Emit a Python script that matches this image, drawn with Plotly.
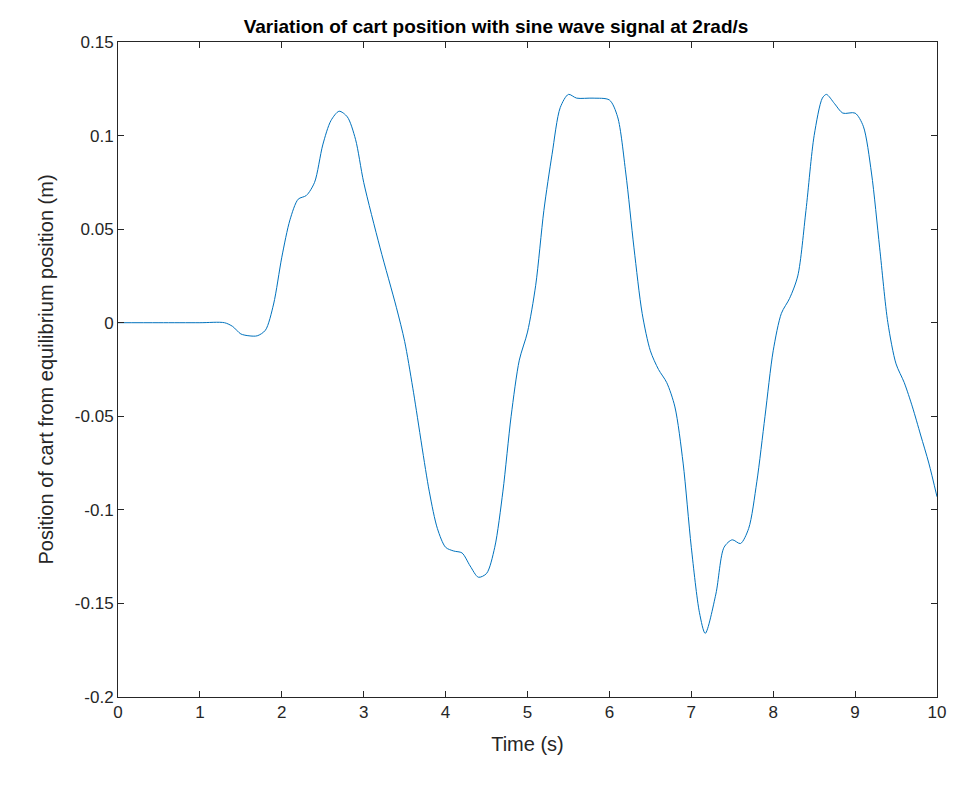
import plotly.graph_objects as go

time_s = [0,0.5,1.0,1.3,1.4,1.5,1.6,1.7,1.8,1.9,2.0,2.1,2.2,2.3,2.4,2.5,2.6,2.7,2.8,2.9,3.0,3.2,3.4,3.5,3.6,3.8,3.9,4.0,4.1,4.2,4.3,4.4,4.5,4.6,4.7,4.8,4.9,5.0,5.1,5.2,5.3,5.4,5.5,5.6,5.8,6.0,6.1,6.2,6.3,6.4,6.5,6.6,6.7,6.8,6.9,7.0,7.1,7.17,7.3,7.4,7.5,7.6,7.7,7.8,7.9,8.0,8.1,8.2,8.3,8.4,8.5,8.6,8.65,8.75,8.85,9.0,9.1,9.2,9.3,9.4,9.5,9.6,9.7,9.8,9.9,10.0]
position_m = [0,0,0,0,-0.002,-0.006,-0.007,-0.007,-0.004,0.01,0.035,0.055,0.066,0.068,0.075,0.095,0.108,0.113,0.11,0.098,0.075,0.04,0.008,-0.01,-0.035,-0.09,-0.11,-0.12,-0.122,-0.123,-0.13,-0.136,-0.134,-0.12,-0.09,-0.05,-0.02,-0.005,0.02,0.06,0.09,0.115,0.122,0.12,0.12,0.119,0.11,0.08,0.04,0.005,-0.015,-0.025,-0.032,-0.045,-0.075,-0.12,-0.155,-0.166,-0.145,-0.12,-0.116,-0.118,-0.11,-0.085,-0.05,-0.015,0.005,0.013,0.025,0.06,0.1,0.12,0.122,0.117,0.112,0.112,0.105,0.08,0.04,0.0,-0.022,-0.032,-0.045,-0.06,-0.075,-0.093]
y_ticks = [-0.2,-0.15,-0.1,-0.05,0,0.05,0.1,0.15]
y_labels = ["-0.2","-0.15","-0.1","-0.05","0","0.05","0.1","0.15"]

fig = go.Figure(go.Scatter(x=time_s, y=position_m, mode="lines",
    line=dict(color="#0072BD", width=1, shape="spline", smoothing=0.8)))
ax = dict(showline=True, mirror="ticks", linecolor="#262626", linewidth=1, ticks="inside",
          ticklen=6, tickcolor="#262626", showgrid=False, zeroline=False,
          tickfont=dict(size=17, color="#262626"))
fig.update_layout(
    width=976, height=788, paper_bgcolor="white", plot_bgcolor="white",
    margin=dict(l=110, r=47, t=34, b=99),
    font=dict(family="Liberation Sans, Arial", color="#262626"),
    title=dict(text="<b>Variation of cart position with sine wave signal at 2rad/s</b>",
               x=0.5, xanchor="center", y=0.985, yanchor="top", font=dict(size=19, color="black")),
    xaxis=dict(ax, range=[0, 10], dtick=1, title=dict(text="Time (s)", font=dict(size=20))),
    yaxis=dict(ax, range=[-0.2, 0.15], tickvals=y_ticks, ticktext=y_labels,
               title=dict(text="Position of cart from equilibrium position (m)", font=dict(size=20))),
    showlegend=False)
fig.write_html("out.html")
